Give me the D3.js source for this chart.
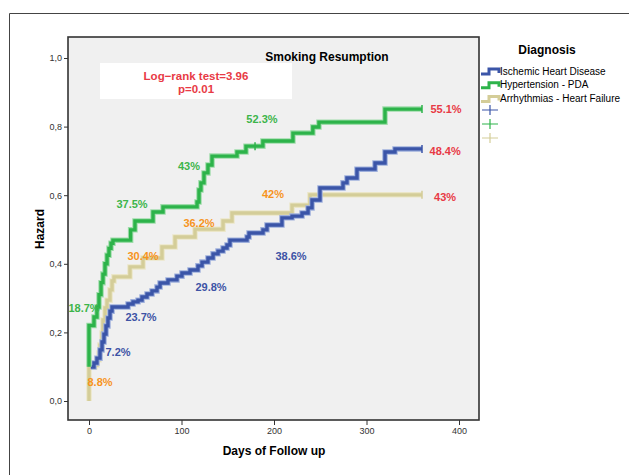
<!DOCTYPE html>
<html>
<head>
<script src="https://cdn.jsdelivr.net/npm/d3@7"></script>
</head>
<body style="margin:0; background:#fff;">
<div id="chart"></div>
<script>
  'use strict';

  // Kaplan-Meier style step curves: [day, hazard]
  var ischemic = [[2,0.099],[5.4,0.111],[8.6,0.125],[11.9,0.149],[14.1,0.172],[16.2,0.195],[18.4,0.219],[20.5,0.242],[22.7,0.262],[24.9,0.274],[42.2,0.283],[47.6,0.289],[53,0.294],[57.3,0.303],[62.7,0.312],[68.1,0.321],[73.5,0.332],[76.8,0.344],[85.4,0.353],[95.1,0.364],[100.5,0.373],[109.2,0.382],[117.8,0.394],[122.2,0.405],[128.6,0.417],[134.1,0.429],[139.5,0.437],[144.9,0.446],[149.2,0.455],[152.4,0.469],[170.8,0.478],[173,0.49],[188.1,0.499],[192.4,0.513],[208.6,0.534],[219.5,0.539],[230.3,0.548],[236.8,0.563],[241.1,0.586],[249.7,0.621],[274.6,0.636],[278.9,0.65],[289.7,0.676],[309.2,0.694],[320,0.726],[330.8,0.735],[360,0.735]];
  var hypertension = [[0,0.10],[0,0.22],[5.4,0.245],[8.6,0.274],[10.8,0.31],[13,0.345],[15.1,0.37],[17.3,0.40],[19.5,0.425],[21.6,0.445],[23.8,0.46],[25.9,0.469],[45,0.499],[49.7,0.525],[69.2,0.551],[80,0.566],[116.8,0.58],[118.9,0.615],[121,0.636],[124.3,0.665],[128.6,0.688],[133,0.714],[160,0.726],[169.7,0.743],[188,0.758],[220.5,0.781],[242,0.799],[248.6,0.813],[320,0.851],[360,0.851]];
  var arrhythmias = [[0,0],[0,0.099],[6.5,0.105],[8.6,0.12],[10.8,0.14],[11.9,0.163],[14.1,0.198],[15.1,0.236],[17.3,0.271],[19.5,0.294],[22.7,0.324],[24.9,0.35],[27,0.362],[44.3,0.391],[58.4,0.417],[78.9,0.449],[93,0.478],[114.6,0.501],[144.9,0.525],[154.6,0.548],[219.5,0.571],[238.9,0.601],[360,0.601]];

  // censored marks [day, hazard]
  var censIschemic = [[360,0.735]];
  var censHypertension = [[179.5,0.743],[360,0.851]];
  var censArrhythmias = [[360,0.601]];

  var seriesNames = ["Ischemic Heart Disease", "Hypertension - PDA", "Arrhythmias - Heart Failure"];
  var xTicks = [0, 100, 200, 300, 400];
  var yTicks = [0, 0.2, 0.4, 0.6, 0.8, 1.0];

  // percentage annotations: [text, day, hazard, kind]
  var notes = [
    ["18.7%", -5.4, 0.271, "g"], ["37.5%", 46.5, 0.574, "g"], ["43%", 108.1, 0.685, "g"], ["52.3%", 187, 0.822, "g"],
    ["55.1%", 386, 0.851, "r"], ["48.4%", 385, 0.729, "r"], ["43%", 385, 0.595, "r"],
    ["42%", 198.9, 0.603, "o"], ["36.2%", 118.9, 0.519, "o"], ["30.4%", 58.4, 0.423, "o"], ["8.8%", 11.9, 0.055, "o"],
    ["7.2%", 31.4, 0.143, "b"], ["23.7%", 56.2, 0.245, "b"], ["29.8%", 131.9, 0.332, "b"], ["38.6%", 218.4, 0.423, "b"]
  ];

  var lineColors = ["#3b55a8", "#2db34a", "#d4cd98"];
  var haloColors = ["#9fb0dc", "#9fdcaa", "#ebe6c8"];
  var noteColors = {g: "#3cb54a", r: "#e83a45", o: "#f7941d", b: "#3d53a5"};
  var font = "'Liberation Sans', Arial, sans-serif";

  var W = 629, H = 475;
  var svg = d3.select("#chart").append("svg")
      .attr("width", W).attr("height", H)
      .style("font-family", font);

  // outer frame (top and left only visible)
  svg.append("path").attr("d", "M9.5,475 V13.5 H629")
      .attr("fill", "none").attr("stroke", "#444").attr("stroke-width", 1);

  var plot = {left: 68, top: 37, right: 479, bottom: 420};
  var x = d3.scaleLinear().domain([0, 400]).range([89, 459]);
  var y = d3.scaleLinear().domain([0, 1]).range([401, 58]);

  svg.append("rect")
      .attr("x", plot.left).attr("y", plot.top)
      .attr("width", plot.right - plot.left).attr("height", plot.bottom - plot.top)
      .attr("fill", "#f0f0f0").attr("stroke", "#333").attr("stroke-width", 1.6);

  // axes
  var yAxis = d3.axisLeft(y).tickValues(yTicks).tickSize(4).tickPadding(2)
      .tickFormat(function(d) { return d3.format(".1f")(d).replace(".", ","); });
  var gy = svg.append("g").attr("transform", "translate(" + plot.left + ",0)").call(yAxis);
  var xAxis = d3.axisBottom(x).tickValues(xTicks).tickSize(5).tickPadding(3);
  var gx = svg.append("g").attr("transform", "translate(0," + plot.bottom + ")").call(xAxis);
  [gx, gy].forEach(function(g) {
    g.select(".domain").remove();
    g.selectAll("line").attr("stroke", "#333");
    g.selectAll("text").attr("fill", "#333").style("font-size", "9px").style("font-family", font);
  });

  svg.append("text").attr("x", 274).attr("y", 455).attr("text-anchor", "middle")
      .style("font-size", "12px").style("font-weight", "bold").text("Days of Follow up");
  svg.append("text").attr("transform", "translate(44,229) rotate(-90)").attr("text-anchor", "middle")
      .style("font-size", "12px").style("font-weight", "bold").text("Hazard");

  // log-rank box
  svg.append("rect").attr("x", 100).attr("y", 63).attr("width", 192).attr("height", 36).attr("fill", "#fff");
  svg.append("text").attr("x", 196).attr("y", 80).attr("text-anchor", "middle").attr("fill", "#e83a45")
      .style("font-size", "11.5px").style("font-weight", "bold").text("Log\u2212rank test=3.96");
  svg.append("text").attr("x", 196).attr("y", 93).attr("text-anchor", "middle").attr("fill", "#e83a45")
      .style("font-size", "11.5px").style("font-weight", "bold").text("p=0.01");

  svg.append("text").attr("x", 327).attr("y", 61).attr("text-anchor", "middle")
      .style("font-size", "12px").style("font-weight", "bold").text("Smoking Resumption");

  // curves
  var line = d3.line().x(function(d) { return x(d[0]); }).y(function(d) { return y(d[1]); })
      .curve(d3.curveStepAfter);
  var curves = [arrhythmias, ischemic, hypertension];
  var order = [2, 0, 1];
  curves.forEach(function(data, i) {
    var k = order[i];
    svg.append("path").attr("d", line(data)).attr("fill", "none")
        .attr("stroke", haloColors[k]).attr("stroke-width", 5.5);
    svg.append("path").attr("d", line(data)).attr("fill", "none")
        .attr("stroke", lineColors[k]).attr("stroke-width", 3.4);
  });

  [censIschemic, censHypertension, censArrhythmias].forEach(function(c, k) {
    svg.selectAll(null).data(c).enter().append("line")
        .attr("x1", function(d) { return x(d[0]); }).attr("x2", function(d) { return x(d[0]); })
        .attr("y1", function(d) { return y(d[1]) - 4; }).attr("y2", function(d) { return y(d[1]) + 4; })
        .attr("stroke", lineColors[k]).attr("stroke-width", 1.5);
  });

  // annotations
  svg.selectAll(null).data(notes).enter().append("text")
      .attr("x", function(d) { return x(d[1]); })
      .attr("y", function(d) { return y(d[2]) + 4; })
      .attr("text-anchor", "middle")
      .attr("fill", function(d) { return noteColors[d[3]]; })
      .style("font-size", "11px").style("font-weight", "bold")
      .text(function(d) { return d[0]; });

  // legend
  svg.append("text").attr("x", 547).attr("y", 54).attr("text-anchor", "middle")
      .style("font-size", "12px").style("font-weight", "bold").text("Diagnosis");
  seriesNames.forEach(function(name, k) {
    var ly = 71 + k * 13.7;
    svg.append("path").attr("d", "M481," + (ly + 3) + " H489 V" + (ly - 2) + " H499 V" + (ly + 2))
        .attr("fill", "none").attr("stroke", lineColors[k]).attr("stroke-width", 3);
    svg.append("text").attr("x", 500).attr("y", ly + 3.5)
        .style("font-size", "10px").text(name);
    var cy = 110 + k * 14;
    svg.append("path").attr("d", "M482," + cy + " H498 M490," + (cy - 5) + " V" + (cy + 5))
        .attr("stroke", lineColors[k]).attr("stroke-width", 1.2);
  });
</script>
</body>
</html>
